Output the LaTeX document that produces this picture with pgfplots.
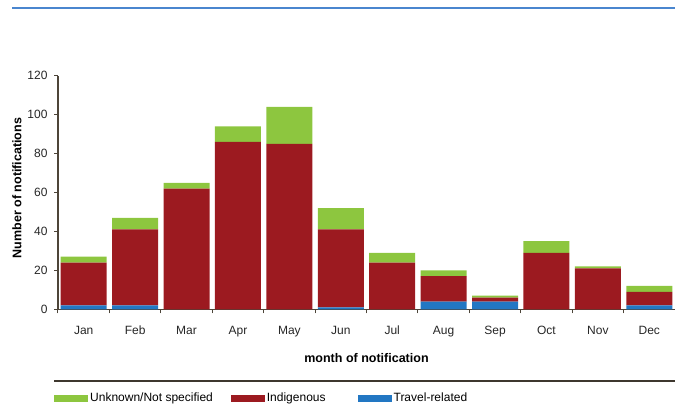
\documentclass[border=0pt]{standalone}
\usepackage{fontspec}
\setmainfont{Liberation Sans}
\usepackage{pgfplots}
\pgfplotsset{compat=1.18}

\definecolor{unk}{HTML}{8DC63F}
\definecolor{ind}{HTML}{9C1A20}
\definecolor{trv}{HTML}{2277C3}
\definecolor{axc}{HTML}{4D4539}
\definecolor{topline}{HTML}{4A86CF}

\begin{document}
\begin{tikzpicture}
\useasboundingbox (0,0) rectangle (675pt,408pt);
\draw[topline, line width=1.4pt] (12pt,400pt) -- (675pt,400pt);
\draw[axc!80!black, line width=1.2pt] (54pt,27pt) -- (675pt,27pt);
\begin{axis}[
  at={(58pt,98.7pt)}, anchor=south west,
  scale only axis, width=617pt, height=233.6pt,
  ybar stacked, bar width=46pt,
  xmin=-0.5, xmax=11.5, ymin=0, ymax=120,
  axis x line*=bottom, axis y line*=left,
  axis line style={axc, line width=1.1pt},
  xtick={0,...,11},
  xticklabels={Jan,Feb,Mar,Apr,May,Jun,Jul,Aug,Sep,Oct,Nov,Dec},
  minor xtick={-0.5,0.5,...,11.5},
  ytick={0,20,...,120},
  tick align=outside,
  major tick length=4pt, minor tick length=4pt,
  tick style={axc, line width=1pt},
  major x tick style={draw=none},
  /pgf/number format/assume math mode=true,
  tick label style={font=\fontsize{12}{14}\selectfont, text=black!85},
  xticklabel style={yshift=-9pt},
  yticklabel style={xshift=-3pt},
  xlabel={month of notification},
  xlabel style={at={(axis description cs:0.5,-0.207)}, anchor=center,
    font=\bfseries\fontsize{12.5}{15}\selectfont},
  ylabel={Number of notifications},
  ylabel style={at={(axis description cs:-0.0665,0.519)}, anchor=center,
    font=\bfseries\fontsize{12.5}{15}\selectfont},
  legend columns=3,
  reverse legend,
  legend style={at={(axis description cs:-0.0114,-0.38)}, anchor=west,
    draw=none, fill=none, font=\fontsize{12}{14}\selectfont,
    /tikz/column 2/.style={column sep=16pt},
    /tikz/column 4/.style={column sep=30pt}},
  legend image code/.code={\fill[#1] (0pt,-3.5pt) rectangle (34pt,3.5pt);},
]
% travel-related
\addplot[fill=trv, draw=none] coordinates {
  (0,2) (1,2) (2,0) (3,0) (4,0) (5,1) (6,0) (7,4) (8,4) (9,0) (10,0) (11,2)};
% indigenous
\addplot[fill=ind, draw=none] coordinates {
  (0,22) (1,39) (2,62) (3,86) (4,85) (5,40) (6,24) (7,13) (8,2) (9,29) (10,21) (11,7)};
% unknown / not specified
\addplot[fill=unk, draw=none] coordinates {
  (0,3) (1,6) (2,3) (3,8) (4,19) (5,11) (6,5) (7,3) (8,1) (9,6) (10,1) (11,3)};
\legend{Travel-related,Indigenous,Unknown/Not specified}
\end{axis}
\end{tikzpicture}
\end{document}
